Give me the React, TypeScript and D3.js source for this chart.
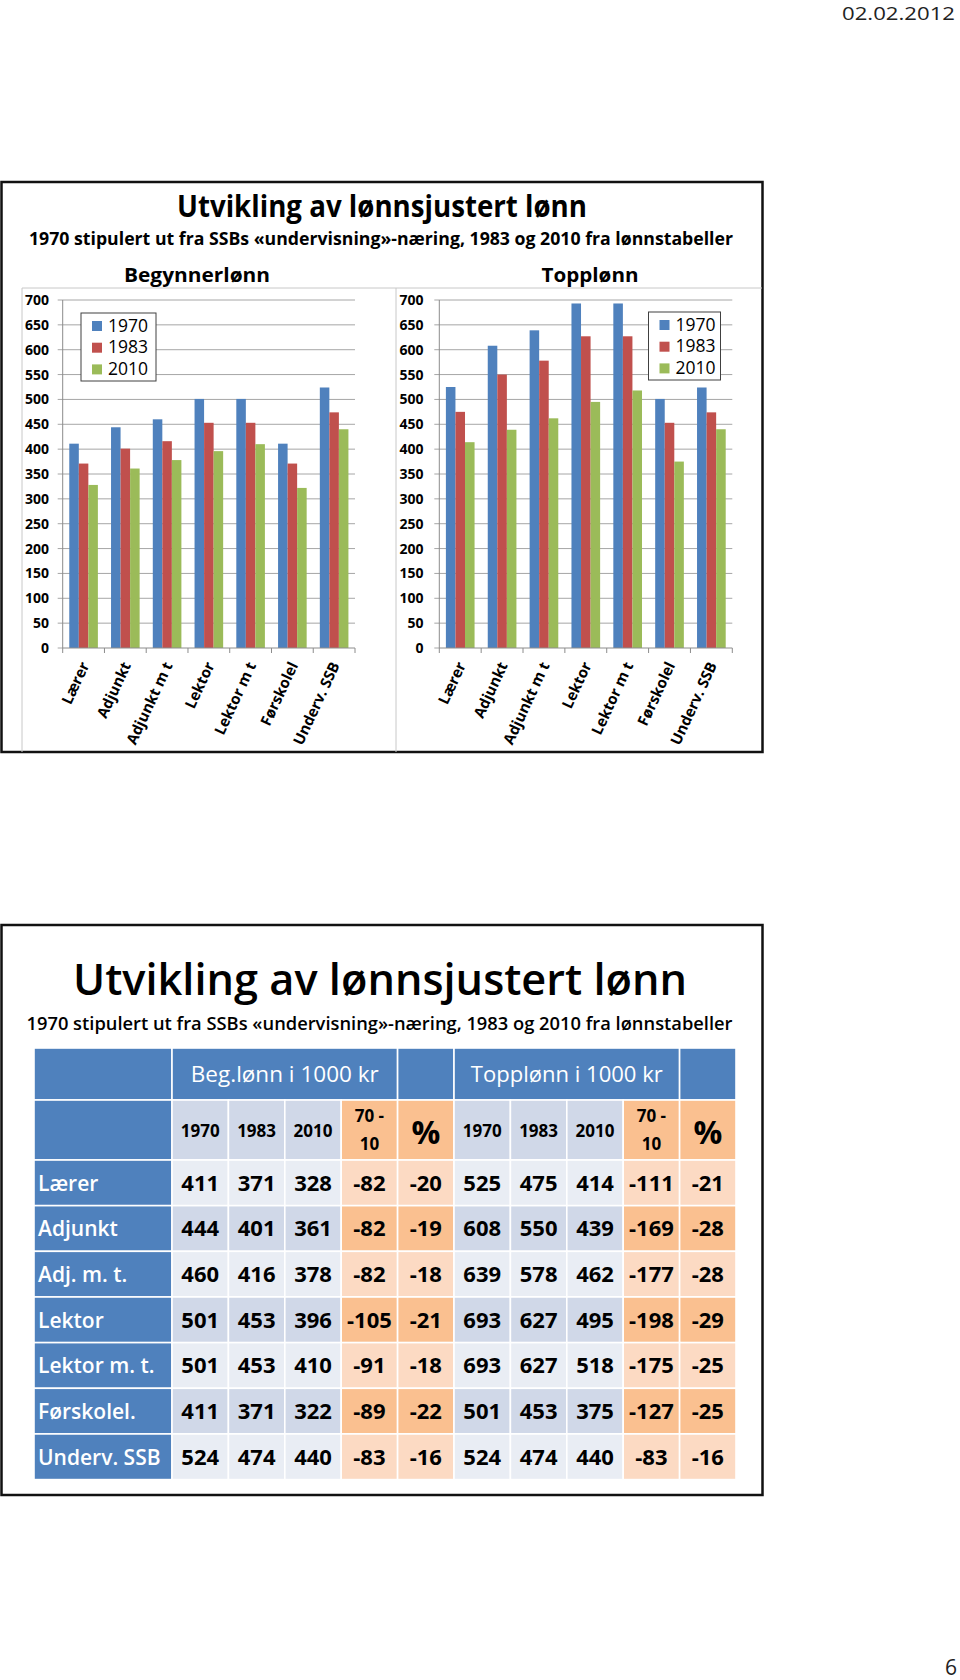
import React from "react";
import * as d3 from "d3";

// ---------- data ----------
const categories = ["Lærer", "Adjunkt", "Adjunkt m t", "Lektor", "Lektor m t", "Førskolel", "Underv. SSB"];
const seriesNames = ["1970", "1983", "2010"];
const seriesColors = ["#4F81BD", "#C0504D", "#9BBB59"];

const beg1970 = [411, 444, 460, 501, 501, 411, 524];
const beg1983 = [371, 401, 416, 453, 453, 371, 474];
const beg2010 = [328, 361, 378, 396, 410, 322, 440];

const top1970 = [525, 608, 639, 693, 693, 501, 524];
const top1983 = [475, 550, 578, 627, 627, 453, 474];
const top2010 = [414, 439, 462, 495, 518, 375, 440];

const yTicks = [0, 50, 100, 150, 200, 250, 300, 350, 400, 450, 500, 550, 600, 650, 700];

const rowLabels = ["Lærer", "Adjunkt", "Adj. m. t.", "Lektor", "Lektor m. t.", "Førskolel.", "Underv. SSB"];
const begDiff = [-82, -82, -82, -105, -91, -89, -83];
const begPct = [-20, -19, -18, -21, -18, -22, -16];
const topDiff = [-111, -169, -177, -198, -175, -127, -83];
const topPct = [-21, -28, -28, -29, -25, -25, -16];

const titleText = "Utvikling av lønnsjustert lønn";
const subtitleText = "1970 stipulert ut fra SSBs «undervisning»-næring, 1983 og 2010 fra lønnstabeller";
const dateText = "02.02.2012";
const pageNo = "6";

const FONT = "'Open Sans', 'Noto Sans', 'DejaVu Sans', sans-serif";

// ---------- bar chart ----------
type ChartProps = {
  title: string;
  titleX: number;
  titleLen: number;
  values: number[][];
  x0: number;
  x1: number;
  labelRight: number;
  legendX: number;
  legendY: number;
  legendW: number;
};

function BarChart(p: ChartProps) {
  const y = d3.scaleLinear().domain([0, 700]).range([648, 300]);
  const xb = d3.scaleBand<string>().domain(categories).range([p.x0, p.x1]).padding(0);
  const xs = d3
    .scaleBand<string>()
    .domain(seriesNames)
    .range([0, xb.bandwidth()])
    .paddingInner(0)
    .paddingOuter(0.69);
  const bounds = categories.map((c) => xb(c)!).concat([p.x1]);
  return (
    <g fontFamily={FONT}>
      <text x={p.titleX} y={282} textAnchor="middle" fontSize={20} fontWeight={700} textLength={p.titleLen} lengthAdjust="spacingAndGlyphs">
        {p.title}
      </text>
      {yTicks.map((t) => (
        <g key={t}>
          <line x1={p.x0 - 5} x2={t === 0 ? p.x0 : p.x1} y1={y(t)} y2={y(t)} stroke="#A6A6A6" strokeWidth={1} />
          <text x={p.labelRight} y={y(t) + 5} textAnchor="end" fontSize={14} fontWeight={700}>
            {t}
          </text>
        </g>
      ))}
      {categories.map((c, i) => (
        <g key={c}>
          {seriesNames.map((s, j) => (
            <rect
              key={s}
              x={xb(c)! + xs(s)!}
              width={xs.bandwidth()}
              y={y(p.values[j][i])}
              height={y(0) - y(p.values[j][i])}
              fill={seriesColors[j]}
            />
          ))}
        </g>
      ))}
      <line x1={p.x0} x2={p.x0} y1={y(700)} y2={y(0)} stroke="#8C8C8C" strokeWidth={1} />
      <line x1={p.x0} x2={p.x1} y1={y(0)} y2={y(0)} stroke="#8C8C8C" strokeWidth={1} />
      {bounds.map((b, i) => (
        <line key={i} x1={b} x2={b} y1={y(0)} y2={y(0) + 5} stroke="#8C8C8C" strokeWidth={1} />
      ))}
      {categories.map((c) => {
        const cx = xb(c)! + xb.bandwidth() / 2;
        return (
          <text
            key={c}
            transform={`translate(${cx + 6},${665}) rotate(-65)`}
            textAnchor="end"
            fontSize={15}
            fontWeight={700}
          >
            {c}
          </text>
        );
      })}
      <rect x={p.legendX} y={p.legendY} width={p.legendW} height={68} fill="#fff" stroke="#404040" strokeWidth={1} />
      {seriesNames.map((s, j) => (
        <g key={s}>
          <rect x={p.legendX + 11} y={p.legendY + 8 + j * 21.7} width={10} height={10} fill={seriesColors[j]} />
          <text x={p.legendX + 27} y={p.legendY + 18.5 + j * 21.7} fontSize={17.5}>
            {s}
          </text>
        </g>
      ))}
    </g>
  );
}

// ---------- table ----------
function SalaryTable() {
  const tx0 = 34;
  const labelEnd = 172;
  const tx1 = 736;
  const colIdx = d3.range(10).map(String);
  const xc = d3.scaleBand<string>().domain(colIdx).range([labelEnd, tx1]);
  const h1Top = 1048;
  const h2Top = 1100;
  const rowsTop = 1160;
  const rowsBottom = 1479.6;
  const yr = d3.scaleBand<string>().domain(rowLabels).range([rowsTop, rowsBottom]);
  const blue = "#4F81BD";
  const grayDark = "#D0D8E8";
  const grayLight = "#E9EDF4";
  const orDark = "#FAC090";
  const orLight = "#FCDAC3";
  const isOrange = (k: number) => k === 3 || k === 4 || k === 8 || k === 9;
  const cell = (x: number, y: number, w: number, h: number, fill: string, key: string) => (
    <rect key={key} x={x} y={y} width={w} height={h} fill={fill} stroke="#fff" strokeWidth={1.6} />
  );
  const cw = xc.bandwidth();
  const rowVals = rowLabels.map((_, i) => [
    beg1970[i], beg1983[i], beg2010[i], begDiff[i], begPct[i],
    top1970[i], top1983[i], top2010[i], topDiff[i], topPct[i],
  ]);
  return (
    <g fontFamily={FONT}>
      {/* header row 1 */}
      {cell(tx0, h1Top, labelEnd - tx0, h2Top - h1Top, blue, "h1l")}
      {cell(xc("0")!, h1Top, cw * 4, h2Top - h1Top, blue, "h1b")}
      {cell(xc("4")!, h1Top, cw, h2Top - h1Top, blue, "h1p")}
      {cell(xc("5")!, h1Top, cw * 4, h2Top - h1Top, blue, "h1t")}
      {cell(xc("9")!, h1Top, cw, h2Top - h1Top, blue, "h1q")}
      <text x={xc("0")! + cw * 2} y={1082} textAnchor="middle" fill="#fff" fontSize={22} textLength={188} lengthAdjust="spacingAndGlyphs">
        Beg.lønn i 1000 kr
      </text>
      <text x={xc("5")! + cw * 2} y={1082} textAnchor="middle" fill="#fff" fontSize={22} textLength={192} lengthAdjust="spacingAndGlyphs">
        Topplønn i 1000 kr
      </text>
      {/* header row 2 */}
      {cell(tx0, h2Top, labelEnd - tx0, rowsTop - h2Top, blue, "h2l")}
      {colIdx.map((c, k) => cell(xc(c)!, h2Top, cw, rowsTop - h2Top, isOrange(k) ? orDark : grayDark, "h2" + c))}
      {colIdx.map((c, k) => {
        const cx = xc(c)! + cw / 2;
        const m = k % 5;
        if (m < 3)
          return (
            <text key={"t2" + c} x={cx} y={1137} textAnchor="middle" fontSize={17} fontWeight={700}>
              {seriesNames[m]}
            </text>
          );
        if (m === 3)
          return (
            <g key={"t2" + c}>
              <text x={cx} y={1122} textAnchor="middle" fontSize={17} fontWeight={700}>70 -</text>
              <text x={cx} y={1150} textAnchor="middle" fontSize={17} fontWeight={700}>10</text>
            </g>
          );
        return (
          <text key={"t2" + c} x={cx} y={1144} textAnchor="middle" fontSize={32} fontWeight={700}>
            %
          </text>
        );
      })}
      {/* body */}
      {rowLabels.map((r, i) => {
        const y0 = yr(r)!;
        const h = yr.bandwidth();
        const dark = i % 2 === 1;
        return (
          <g key={r}>
            {cell(tx0, y0, labelEnd - tx0, h, blue, "l" + r)}
            <text x={38} y={y0 + h / 2 + 8} fill="#fff" fontSize={21} fontWeight={600}>
              {r}
            </text>
            {colIdx.map((c, k) =>
              cell(xc(c)!, y0, cw, h, isOrange(k) ? (dark ? orDark : orLight) : dark ? grayDark : grayLight, r + c)
            )}
            {colIdx.map((c, k) => (
              <text key={"v" + c} x={xc(c)! + cw / 2} y={y0 + h / 2 + 8} textAnchor="middle" fontSize={22} fontWeight={700}>
                {rowVals[i][k]}
              </text>
            ))}
          </g>
        );
      })}
    </g>
  );
}

export default function App() {
  return (
    <svg
      width={960}
      height={1680}
      viewBox="0 0 960 1680"
      style={{ position: "absolute", left: 0, top: 0, background: "#fff" }}
      fontFamily={FONT}
    >
      <rect x={0} y={0} width={960} height={1680} fill="#fff" />
      <text x={955} y={20} textAnchor="end" fontSize={18.5} fill="#222" textLength={113} lengthAdjust="spacingAndGlyphs">
        {dateText}
      </text>

      {/* top slide */}
      <rect x={1.5} y={182} width={761} height={570} fill="#fff" stroke="#111" strokeWidth={2.5} />
      <text x={382} y={217} textAnchor="middle" fontSize={31} fontWeight={700} textLength={410} lengthAdjust="spacingAndGlyphs">
        {titleText}
      </text>
      <text x={381} y={245} textAnchor="middle" fontSize={18} fontWeight={700} textLength={704} lengthAdjust="spacingAndGlyphs">
        {subtitleText}
      </text>
      <line x1={22} x2={762} y1={288} y2={288} stroke="#C8C8C8" strokeWidth={1} />
      <line x1={22} x2={22} y1={288} y2={752} stroke="#C8C8C8" strokeWidth={1} />
      <line x1={396} x2={396} y1={288} y2={752} stroke="#C8C8C8" strokeWidth={1} />
      <BarChart
        title="Begynnerlønn"
        titleX={197}
        titleLen={146}
        values={[beg1970, beg1983, beg2010]}
        x0={62.7}
        x1={355}
        labelRight={49}
        legendX={81}
        legendY={313}
        legendW={75}
      />
      <BarChart
        title="Topplønn"
        titleX={590}
        titleLen={97}
        values={[top1970, top1983, top2010]}
        x0={439.3}
        x1={732.3}
        labelRight={423.5}
        legendX={648.5}
        legendY={312}
        legendW={72}
      />

      {/* bottom slide */}
      <rect x={1.5} y={925} width={761} height={570} fill="#fff" stroke="#111" strokeWidth={2.5} />
      <text x={380} y={995} textAnchor="middle" fontSize={44} fontWeight={600} textLength={614} lengthAdjust="spacingAndGlyphs">
        {titleText}
      </text>
      <text x={379.5} y={1030} textAnchor="middle" fontSize={18} fontWeight={600} textLength={706} lengthAdjust="spacingAndGlyphs">
        {subtitleText}
      </text>
      <SalaryTable />

      <text x={957} y={1675} textAnchor="end" fontSize={21} fill="#222">
        {pageNo}
      </text>
    </svg>
  );
}
